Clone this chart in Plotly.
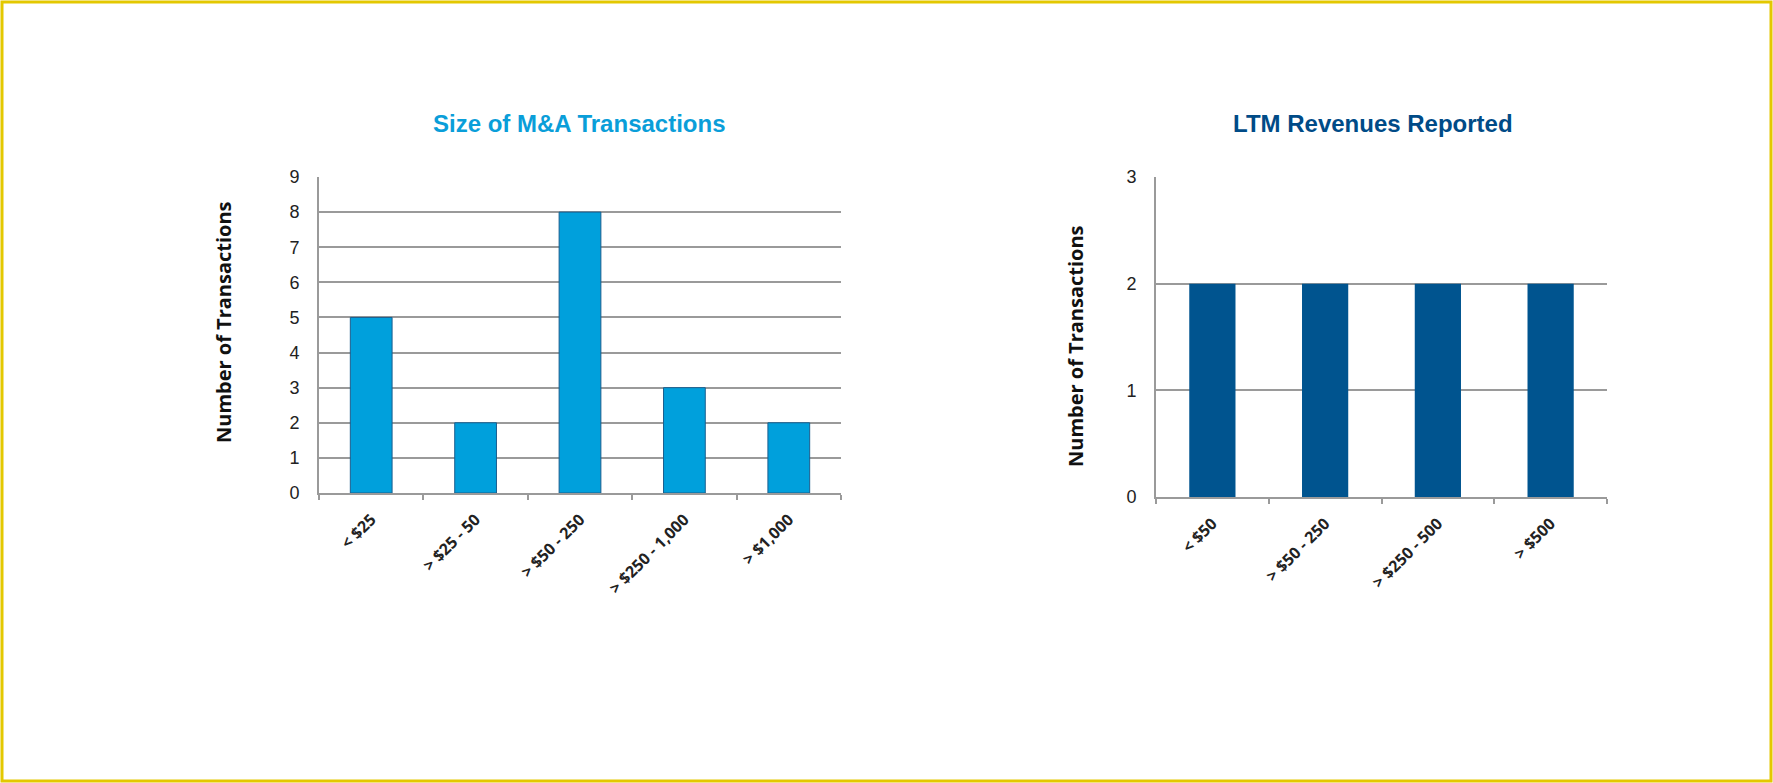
import plotly.graph_objects as go

W, H = 1773, 783

size_categories = ["< $25", "> $25 - 50", "> $50 - 250", "> $250 - 1,000", "> $1,000"]
size_values = [5, 2, 8, 3, 2]

rev_categories = ["< $50", "> $50 - 250", "> $250 - 500", "> $500"]
rev_values = [2, 2, 2, 2]

left_title = "Size of M&A Transactions"
right_title = "LTM Revenues Reported"
y_title = "Number of Transactions"

GRID = "#9a9a9a"
TICKFONT_X = dict(family="Open Sans", size=16, color="#222222", weight="bold")
TICKFONT_Y = dict(family="Liberation Sans, Arial", size=18, color="#222222")

fig = go.Figure()
fig.add_trace(go.Bar(
    x=size_categories, y=size_values, xaxis="x", yaxis="y",
    marker=dict(color="#00A0DC", line=dict(color="#1B5E8E", width=1)),
    width=0.4, showlegend=False, hoverinfo="skip",
))
fig.add_trace(go.Bar(
    x=rev_categories, y=rev_values, xaxis="x2", yaxis="y2",
    marker=dict(color="#00548F", line=dict(color="#00548F", width=0)),
    width=0.41, showlegend=False, hoverinfo="skip",
))

def px_x(v):
    return v / W

def px_y(v):
    return 1 - v / H

xcommon = dict(type="category", showgrid=False, showline=True, linecolor=GRID, linewidth=2,
               ticks="outside", tickson="boundaries", ticklen=5, tickcolor=GRID, tickwidth=2,
               tickangle=-45, tickfont=TICKFONT_X, ticklabelstandoff=9, zeroline=False,
               automargin=False, fixedrange=True)
ycommon = dict(showgrid=True, gridcolor=GRID, gridwidth=2, showline=True, linecolor=GRID,
               linewidth=2, ticks="", tickfont=TICKFONT_Y, ticklabelstandoff=14, zeroline=False,
               automargin=False, fixedrange=True)

ann_common = dict(xref="paper", yref="paper", showarrow=False, xanchor="center", yanchor="middle")

fig.update_layout(
    width=W, height=H, autosize=False,
    margin=dict(l=0, r=0, t=0, b=0, pad=0),
    paper_bgcolor="white", plot_bgcolor="white",
    hovermode=False,
    xaxis=dict(domain=[px_x(319), px_x(841)], anchor="y", **xcommon),
    yaxis=dict(domain=[px_y(493), px_y(177)], anchor="x", range=[0, 9], dtick=1, **ycommon),
    xaxis2=dict(domain=[px_x(1156), px_x(1607)], anchor="y2", **xcommon),
    yaxis2=dict(domain=[px_y(497), px_y(177)], anchor="x2", range=[0, 3], dtick=1, **ycommon),
    annotations=[
        dict(text=left_title, x=px_x(579), y=px_y(123), **ann_common,
             font=dict(family="Liberation Sans, Arial", size=24, color="#0A9ED9", weight="bold")),
        dict(text=right_title, x=px_x(1373), y=px_y(123), **ann_common,
             font=dict(family="Liberation Sans, Arial", size=24, color="#004B87", weight="bold")),
        dict(text=y_title, x=px_x(223), y=px_y(322), textangle=-90, **ann_common,
             font=dict(family="Open Sans", size=20, color="#111111", weight="bold")),
        dict(text=y_title, x=px_x(1075), y=px_y(346), textangle=-90, **ann_common,
             font=dict(family="Open Sans", size=20, color="#111111", weight="bold")),
    ],
    shapes=[
        dict(type="rect", xref="paper", yref="paper",
             x0=px_x(2), x1=px_x(W - 2), y0=px_y(H - 2), y1=px_y(2),
             line=dict(color="#E3C800", width=3), fillcolor="rgba(0,0,0,0)", layer="above"),
    ],
)

fig.write_html(
    "out.html",
    config={"displayModeBar": False, "staticPlot": True},
    post_script="document.body.style.margin='0';document.body.style.padding='0';"
                "document.body.style.overflow='hidden';"
                "document.documentElement.style.overflow='hidden';",
)
